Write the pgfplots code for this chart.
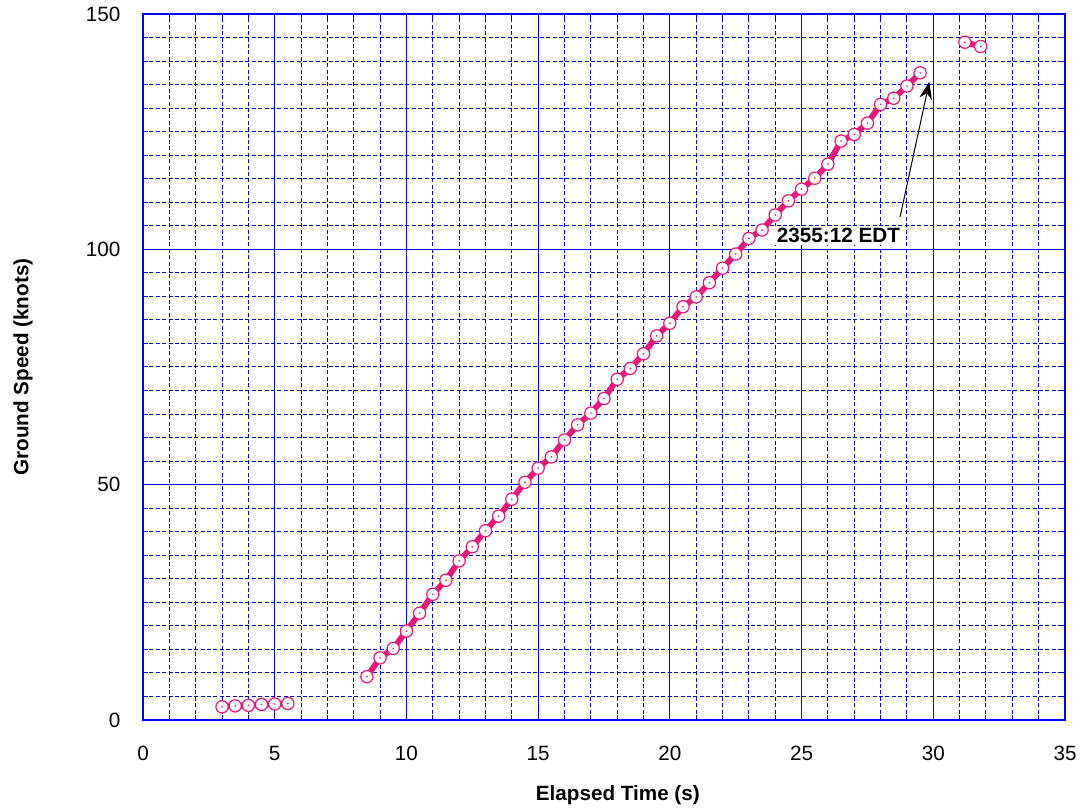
\documentclass[border=0pt]{standalone}
\usepackage{fontspec}
\setmainfont{Liberation Sans}
\usepackage{pgfplots}
\pgfplotsset{compat=1.18}
\usetikzlibrary{arrows.meta}

\definecolor{speed}{RGB}{234,22,122}
\definecolor{gridblue}{RGB}{0,0,250}

% open circle with a small dot in the middle
\pgfdeclareplotmark{dotcircle}{%
  \pgfpathcircle{\pgfpointorigin}{\pgfplotmarksize}%
  \pgfusepathqfillstroke
  \begin{pgfscope}%
    \pgfsetfillcolor{speed}%
    \pgfpathcircle{\pgfpointorigin}{0.7pt}%
    \pgfusepathqfill
  \end{pgfscope}}

\tikzset{spd/.style={draw=speed, line width=4.4pt, mark=dotcircle, mark size=4.6pt,
    mark options={draw=speed, fill=white, line width=0.9pt, solid}}}

\pgfplotstableread{
t v
3.0 2.8
3.5 3.0
4.0 3.1
4.5 3.3
5.0 3.4
5.5 3.5
}\segA

\pgfplotstableread{
t v
8.5 9.2
9.0 13.2
9.5 15.2
10.0 18.9
10.5 22.7
11.0 26.7
11.5 29.7
12.0 33.8
12.5 36.8
13.0 40.2
13.5 43.3
14.0 46.9
14.5 50.5
15.0 53.5
15.5 55.9
16.0 59.5
16.5 62.7
17.0 65.2
17.5 68.3
18.0 72.4
18.5 74.7
19.0 77.8
19.5 81.6
20.0 84.3
20.5 87.8
21.0 89.9
21.5 92.9
22.0 96.0
22.5 99.0
23.0 102.3
23.5 104.1
24.0 107.3
24.5 110.3
25.0 112.8
25.5 115.1
26.0 118.1
26.5 123.0
27.0 124.4
27.5 126.8
28.0 130.8
28.5 132.1
29.0 134.7
29.5 137.5
}\segB

\pgfplotstableread{
t v
31.2 144.0
31.8 143.1
}\segC

\newcommand{\lbl}{\fontsize{15.5}{18}\selectfont}

\begin{document}
\begin{tikzpicture}
\path[use as bounding box] (-107.25pt,-69pt) rectangle (703.5pt,540pt);
\begin{axis}[
  at={(0,0)}, anchor=south west,
  scale only axis,
  width=691.5pt, height=529.5pt,
  xmin=0, xmax=35, ymin=0, ymax=150,
  xtick={0,5,...,35}, ytick={0,50,100,150},
  minor x tick num=4, minor y tick num=9,
  grid=both,
  major grid style={gridblue, line width=0.8pt},
  minor grid style={gridblue, line width=0.75pt, dash pattern=on 3pt off 1.8pt},
  axis line style={gridblue, line width=1.2pt},
  tick style={gridblue, line width=0.75pt},
  major tick length=4pt, minor tick length=4pt,
  tick align=inside,
  /pgf/number format/assume math mode=true,
  tick label style={font=\lbl},
  label style={font=\lbl\bfseries},
  xticklabel style={yshift=-16pt},
  yticklabel style={xshift=-13.5pt},
  xlabel={Elapsed Time (s)},
  ylabel={Ground Speed (knots)},
  xlabel style={at={(axis description cs:0.515,-0.106)}, anchor=center},
  ylabel style={at={(axis description cs:-0.130,0.5)}, anchor=center},
]
\addplot[spd] table[x=t, y=v] {\segA};
\addplot[spd] table[x=t, y=v] {\segB};
\addplot[spd] table[x=t, y=v] {\segC};

\node[fill=white, inner sep=1.5pt, font=\lbl\bfseries] at (axis cs:26.40,103.0) {2355:12 EDT};
\draw[black, line width=0.75pt, -{Stealth[length=13pt,width=9.5pt]}]
  (axis cs:28.74,106.9) -- (axis cs:29.85,135.6);
\end{axis}
\end{tikzpicture}
\end{document}
